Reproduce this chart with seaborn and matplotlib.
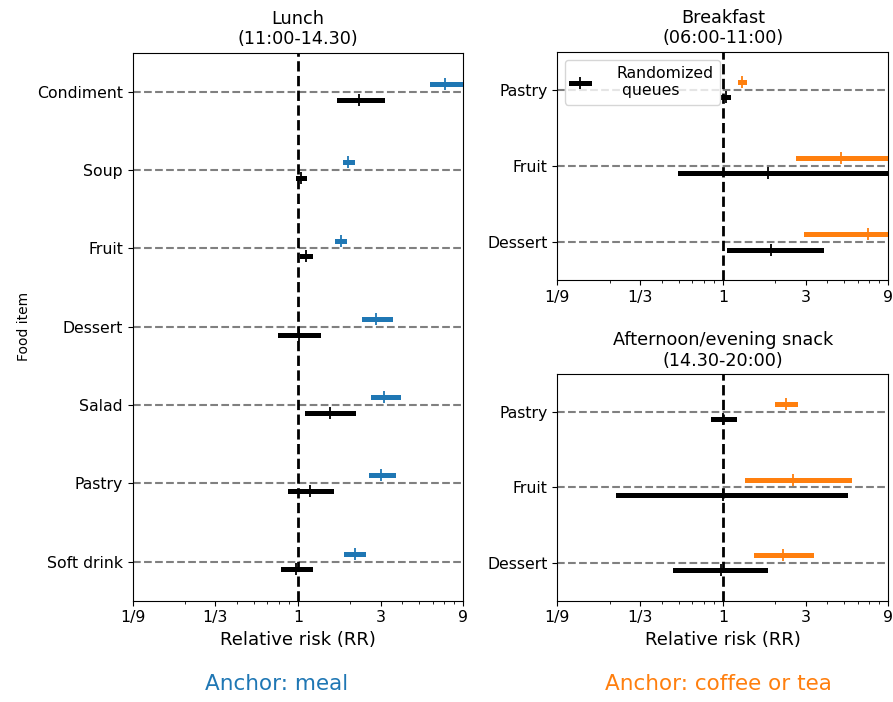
import numpy as np
import pandas as pd
import matplotlib
matplotlib.use("Agg")
import matplotlib.pyplot as plt
from matplotlib.lines import Line2D
from matplotlib.ticker import LogLocator, NullFormatter
import seaborn as sns

plt.rcParams['font.family'] = ['DejaVu Sans']

# ---- data (relative risk: point estimate, lower / upper CI) ----
lunch_items = ['Condiment', 'Soup', 'Fruit', 'Dessert', 'Salad', 'Pastry', 'Soft drink']
lunch_meal_est = [7.1, 1.95, 1.76, 2.83, 3.15, 3.02, 2.14]
lunch_meal_lo = [5.95, 1.87, 1.69, 2.39, 2.71, 2.63, 1.90]
lunch_meal_hi = [9.6, 2.04, 1.84, 3.39, 3.80, 3.54, 2.37]
lunch_rq_est = [2.26, 1.045, 1.11, 1.01, 1.53, 1.18, 0.98]
lunch_rq_lo = [1.73, 1.00, 1.06, 0.79, 1.13, 0.90, 0.82]
lunch_rq_hi = [3.05, 1.09, 1.17, 1.31, 2.09, 1.56, 1.18]

bf_items = ['Pastry', 'Fruit', 'Dessert']
bf_coffee_est = [1.29, 4.77, 6.87]
bf_coffee_lo = [1.25, 2.72, 3.03]
bf_coffee_hi = [1.33, 10.0, 11.0]
bf_rq_est = [1.04, 1.82, 1.89]
bf_rq_lo = [1.005, 0.57, 1.09]
bf_rq_hi = [1.07, 12.0, 3.68]

snack_items = ['Pastry', 'Fruit', 'Dessert']
snack_coffee_est = [2.32, 2.54, 2.21]
snack_coffee_lo = [2.05, 1.37, 1.55]
snack_coffee_hi = [2.61, 5.35, 3.23]
snack_rq_est = [1.0, 1.0, 0.97]
snack_rq_lo = [0.88, 0.25, 0.53]
snack_rq_hi = [1.16, 5.05, 1.74]

xtick_vals = [1/9, 1/3, 1, 3, 9]
xtick_labels = ['1/9', '1/3', '1', '3', '9']

blue = '#1f77b4'
orange = '#ff7f0e'


def long_table(items, anchor, rq):
    rows = []
    for grp, (est, lo, hi) in [('anchor', anchor), ('rq', rq)]:
        for item, e, l, h in zip(items, est, lo, hi):
            for v in (l, e, h):
                rows.append({'item': item, 'group': grp, 'rr': v})
    return pd.DataFrame(rows)


def forest(ax, items, anchor, rq, color, title, xlabel):
    df = long_table(items, anchor, rq)
    sns.pointplot(data=df, x='rr', y='item', hue='group', order=items,
                  hue_order=['anchor', 'rq'],
                  palette={'anchor': color, 'rq': 'black'},
                  estimator='median', errorbar=lambda v: (v.min(), v.max()),
                  dodge=0.2, markers='|', linestyles='none', log_scale=True,
                  markersize=9, markeredgewidth=1.3, zorder=4,
                  err_kws={'linewidth': 3.6, 'zorder': 3},
                  legend=False, ax=ax)
    ax.axvline(1, color='black', ls='--', lw=2, zorder=2)
    for i in range(len(items)):
        ax.axhline(i, color='gray', ls='--', lw=1.5, zorder=1)
    ax.set_xlim(1/9, 9)
    ax.set_ylim(len(items) - 0.5, -0.5)
    ax.set_xticks(xtick_vals)
    ax.set_xticklabels(xtick_labels, fontsize=11.3)
    ax.xaxis.set_minor_locator(LogLocator(base=9, subs=range(2, 9)))
    ax.xaxis.set_minor_formatter(NullFormatter())
    ax.tick_params(axis='y', labelsize=11.3)
    ax.set_title(title, fontsize=12.7)
    ax.set_xlabel(xlabel, fontsize=13)
    ax.set_ylabel('')
    for s in ax.spines.values():
        s.set_visible(True)


fig = plt.figure(figsize=(8.93, 7.02), dpi=100)
ax_l = fig.add_axes([0.1486, 0.1443, 0.3702, 0.7806])
ax_rt = fig.add_axes([0.6241, 0.6011, 0.3707, 0.3252])
ax_rb = fig.add_axes([0.6241, 0.1443, 0.3707, 0.3229])

forest(ax_l, lunch_items,
       (lunch_meal_est, lunch_meal_lo, lunch_meal_hi),
       (lunch_rq_est, lunch_rq_lo, lunch_rq_hi),
       blue, 'Lunch\n(11:00-14.30)', 'Relative risk (RR)')
ax_l.set_ylabel('Food item', fontsize=10)

forest(ax_rt, bf_items,
       (bf_coffee_est, bf_coffee_lo, bf_coffee_hi),
       (bf_rq_est, bf_rq_lo, bf_rq_hi),
       orange, 'Breakfast\n(06:00-11:00)', '')

forest(ax_rb, snack_items,
       (snack_coffee_est, snack_coffee_lo, snack_coffee_hi),
       (snack_rq_est, snack_rq_lo, snack_rq_hi),
       orange, 'Afternoon/evening snack\n(14.30-20:00)', 'Relative risk (RR)')

# legend: errorbar-like handle
h = (Line2D([], [], color='black', lw=3.6),
     Line2D([], [], color='black', marker='|', ls='none', ms=9, mew=1.3))
ax_rt.legend([h], ['Randomized\n queues'], loc='upper left', fontsize=11.3,
             handlelength=1.1, handletextpad=1.8)

fig.text(0.310, 0.026, 'Anchor: meal', color=blue, fontsize=15.5,
         ha='center', va='center')
fig.text(0.8046, 0.026, 'Anchor: coffee or tea', color=orange, fontsize=15.5,
         ha='center', va='center')

fig.savefig('out.png', dpi=100)
